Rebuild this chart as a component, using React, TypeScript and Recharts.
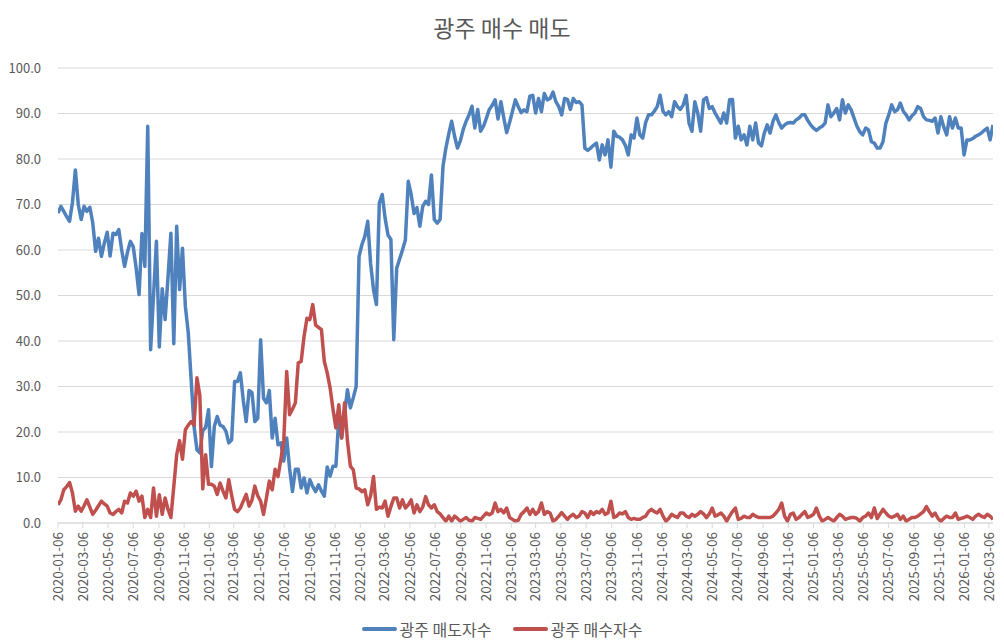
import React from 'react';
import { LineChart, Line, XAxis, YAxis, CartesianGrid } from 'recharts';

const TITLE = '광주 매수 매도';
const SELL_NAME = '광주 매도자수';
const BUY_NAME = '광주 매수자수';
const FIRST_WEEK = '2020-01-06';

const sellers = [
  68.1, 69.6, 68.5, 67.3, 66.3, 70.5, 77.6, 70.0, 66.7, 69.6,
  68.5, 69.4, 66.0, 59.7, 62.6, 58.6, 61.5, 63.9, 58.7, 63.7,
  63.4, 64.5, 60.0, 56.4, 59.5, 61.9, 60.7, 56.0, 50.2, 63.6,
  56.4, 87.2, 38.1, 50.0, 61.9, 38.7, 51.5, 44.7, 54.0, 63.7,
  39.4, 65.2, 51.3, 60.4, 47.6, 41.8, 31.5, 21.2, 16.1, 15.4,
  20.3, 21.0, 24.9, 12.4, 21.2, 23.4, 21.5, 21.2, 20.2, 17.6,
  18.3, 31.1, 31.1, 33.0, 27.0, 22.3, 29.1, 28.7, 22.3, 23.0,
  40.3, 27.4, 26.4, 29.1, 18.7, 23.0, 17.2, 17.6, 13.6, 18.7,
  12.0, 6.9, 11.8, 11.8, 7.7, 9.9, 6.6, 9.5, 8.0, 6.9,
  8.4, 7.0, 5.9, 12.3, 10.3, 12.5, 12.5, 23.0, 18.7, 24.0,
  29.3, 25.3, 27.5, 30.0, 58.6, 61.2, 63.0, 66.3, 57.0, 51.3,
  48.0, 70.3, 72.2, 67.0, 63.3, 62.3, 40.3, 56.0, 58.0, 60.0,
  62.2, 75.1, 72.2, 68.0, 69.3, 65.2, 69.6, 70.7, 70.0, 76.5,
  66.7, 65.9, 66.7, 78.4, 82.4, 85.5, 88.3, 85.0, 82.4, 84.0,
  86.5, 88.3, 89.7, 91.6, 86.8, 90.9, 86.1, 87.2, 89.0, 90.9,
  91.8, 93.0, 88.8, 92.6, 89.0, 85.8, 88.0, 90.5, 93.0, 91.5,
  90.2, 90.8, 90.4, 93.8, 94.0, 90.1, 93.3, 90.4, 94.4, 93.0,
  93.3, 94.7, 92.6, 91.5, 89.7, 93.3, 93.1, 90.9, 93.3, 92.4,
  92.6, 91.9, 82.4, 81.9, 82.4, 83.0, 83.5, 79.8, 83.1, 80.9,
  84.2, 78.2, 86.1, 85.0, 84.8, 84.2, 83.0, 80.9, 85.3, 84.6,
  89.0, 85.3, 84.6, 88.0, 89.7, 89.7, 90.5, 91.5, 94.0, 90.5,
  89.7, 90.4, 89.3, 92.6, 91.5, 90.9, 91.9, 94.0, 87.9, 86.1,
  92.6, 90.1, 86.1, 93.0, 93.5, 91.1, 91.5, 90.1, 89.0, 87.9,
  90.1, 87.9, 93.0, 93.1, 84.6, 87.2, 84.2, 85.3, 83.1, 87.2,
  84.2, 87.9, 83.5, 82.9, 85.7, 87.5, 85.7, 88.3, 89.7, 88.0,
  86.8, 87.5, 87.9, 88.0, 87.9, 88.6, 89.0, 89.7, 89.7, 88.5,
  87.5, 86.8, 86.3, 86.8, 87.2, 87.9, 91.9, 89.3, 90.1, 91.1,
  88.6, 93.0, 90.1, 91.9, 90.8, 89.0, 87.2, 86.0, 85.3, 86.8,
  86.4, 83.8, 83.5, 82.4, 82.4, 83.8, 87.9, 89.7, 91.9, 90.4,
  90.8, 92.3, 90.5, 89.7, 88.6, 89.5, 90.1, 91.5, 91.1, 89.3,
  88.6, 88.5, 88.3, 89.0, 85.7, 89.3, 87.0, 85.3, 89.3, 86.8,
  89.0, 86.8, 86.8, 80.9, 84.2, 84.2, 84.5, 85.0, 85.3, 85.7,
  86.3, 86.8, 84.2, 87.5,
];

const buyers = [
  4.0, 5.1, 7.3, 8.0, 8.9, 6.6, 2.6, 3.7, 2.6, 3.8,
  5.1, 3.5, 1.9, 2.8, 3.8, 4.8, 4.2, 3.7, 2.2, 1.9,
  2.5, 3.0, 2.2, 4.8, 4.4, 6.6, 5.9, 7.0, 4.8, 5.9,
  1.2, 3.0, 1.2, 7.7, 1.5, 6.2, 1.9, 5.5, 3.0, 1.2,
  8.0, 15.0, 18.1, 14.0, 20.5, 21.5, 22.3, 21.5, 31.9, 28.0,
  7.5, 15.0, 8.5, 8.5, 8.1, 6.3, 8.8, 7.0, 5.5, 9.5,
  6.0, 3.0, 2.5, 3.3, 4.8, 6.3, 3.7, 5.0, 8.1, 6.0,
  4.8, 1.9, 5.5, 9.2, 7.3, 11.8, 10.2, 14.0, 18.1, 33.3,
  23.8, 25.0, 26.4, 35.2, 35.5, 41.0, 45.0, 44.7, 48.0, 43.5,
  43.0, 42.5, 35.5, 33.0, 29.7, 25.0, 20.9, 26.0, 18.7, 26.4,
  18.0, 12.5, 11.7, 7.7, 7.5, 6.9, 7.3, 4.0, 6.0, 10.2,
  3.0, 3.5, 3.3, 4.8, 1.5, 3.6, 5.5, 5.5, 3.3, 5.1,
  3.3, 4.0, 5.1, 2.2, 4.0, 2.5, 3.5, 5.8, 4.0, 3.3,
  4.0, 2.5, 2.0, 1.2, 0.4, 1.5, 0.4, 1.5, 1.0, 0.4,
  0.8, 1.2, 0.6, 0.4, 1.2, 1.0, 0.8, 1.5, 2.2, 1.8,
  2.2, 4.4, 2.5, 3.0, 2.2, 3.3, 1.2, 0.8, 0.4, 0.6,
  1.9, 2.5, 3.3, 1.9, 3.0, 1.9, 2.5, 4.4, 1.9, 2.5,
  2.2, 0.4, 0.8, 1.5, 2.3, 1.5, 0.8, 1.5, 1.9, 1.2,
  1.5, 2.5, 2.2, 1.2, 2.5, 1.9, 2.5, 2.2, 3.0, 1.9,
  2.2, 4.8, 1.2, 1.5, 2.2, 2.0, 2.5, 1.2, 0.8, 1.0,
  0.8, 0.8, 1.2, 1.5, 2.5, 3.0, 2.5, 2.2, 3.0, 1.5,
  0.4, 1.0, 1.9, 1.5, 1.2, 2.2, 2.2, 1.5, 1.2, 1.9,
  1.5, 1.9, 2.5, 2.0, 1.2, 2.0, 3.3, 1.5, 1.8, 2.2,
  1.5, 0.4, 1.5, 2.5, 3.3, 0.8, 1.0, 1.5, 1.2, 1.2,
  1.9, 1.5, 1.2, 1.2, 1.2, 1.2, 1.2, 1.5, 2.2, 3.0,
  4.4, 1.5, 0.4, 1.9, 2.2, 0.8, 1.2, 1.9, 2.5, 1.2,
  1.5, 1.9, 3.3, 1.5, 0.4, 0.8, 1.2, 0.8, 0.4, 1.2,
  1.9, 1.5, 0.8, 1.0, 1.2, 1.2, 1.0, 0.4, 1.2, 1.5,
  2.2, 1.2, 3.3, 1.0, 2.0, 3.0, 2.2, 1.5, 1.2, 1.5,
  1.9, 0.8, 1.5, 0.4, 0.8, 1.2, 1.2, 1.5, 2.0, 2.5,
  3.6, 2.5, 1.5, 2.2, 1.0, 0.4, 1.0, 1.5, 1.2, 1.2,
  2.2, 0.8, 1.0, 1.2, 1.5, 1.2, 0.8, 1.5, 1.9, 1.5,
  1.2, 1.9, 1.5, 0.8,
];

const tickLabels = [
  '2020-01-06', '2020-03-06', '2020-05-06', '2020-07-06', '2020-09-06', '2020-11-06',
  '2021-01-06', '2021-03-06', '2021-05-06', '2021-07-06', '2021-09-06', '2021-11-06',
  '2022-01-06', '2022-03-06', '2022-05-06', '2022-07-06', '2022-09-06', '2022-11-06',
  '2023-01-06', '2023-03-06', '2023-05-06', '2023-07-06', '2023-09-06', '2023-11-06',
  '2024-01-06', '2024-03-06', '2024-05-06', '2024-07-06', '2024-09-06', '2024-11-06',
  '2025-01-06', '2025-03-06', '2025-05-06', '2025-07-06', '2025-09-06', '2025-11-06',
  '2026-01-06', '2026-03-06',
];

const yTicks = [0, 10, 20, 30, 40, 50, 60, 70, 80, 90, 100];

const BLUE = '#4F81BD';
const RED = '#C0504D';
const TEXT = '#595959';
const GRID = '#D9D9D9';
const FONT = '"Noto Sans CJK KR", "Noto Sans", sans-serif';

const toTime = (s: string) => {
  const [y, m, d] = s.split('-').map(Number);
  return Date.UTC(y, m - 1, d);
};
const WEEK_MS = 7 * 86400000;
const t0 = toTime(FIRST_WEEK);
const data = sellers.map((v, i) => ({ t: t0 + i * WEEK_MS, sell: v, buy: buyers[i] }));
const tLast = data[data.length - 1].t;
const tickTimes = tickLabels.map(toTime);
const labelOf = (t: number) => new Date(t).toISOString().slice(0, 10);

const XTick = (props: any) => {
  const { x, y, payload } = props;
  return (
    <text
      x={x}
      y={y}
      transform={`rotate(-90 ${x} ${y})`}
      textAnchor="end"
      dy="0.35em"
      fill={TEXT}
      fontSize={13.5}
      fontFamily={FONT}
    >
      {labelOf(payload.value)}
    </text>
  );
};

const LegendItem = ({ color, label, gap }: { color: string; label: string; gap: number }) => (
  <div style={{ display: 'flex', alignItems: 'center', marginLeft: gap }}>
    <div style={{ width: 35, height: 4, background: color, borderRadius: 2, marginRight: 3 }} />
    <span>{label}</span>
  </div>
);

export default function App() {
  return (
    <div style={{ position: 'absolute', left: 0, top: 0, width: 1004, height: 643, background: '#fff', fontFamily: FONT }}>
      <div
        style={{
          position: 'absolute', left: 0, top: 12, width: 1004, textAlign: 'center',
          fontSize: 23, lineHeight: '30px', color: TEXT,
        }}
      >
        {TITLE}
      </div>
      <LineChart width={1004} height={643} data={data} margin={{ top: 68, right: 11, left: 0, bottom: 30 }}>
        <CartesianGrid vertical={false} stroke={GRID} strokeWidth={1} />
        <XAxis
          dataKey="t"
          type="number"
          domain={[t0, tLast]}
          ticks={tickTimes}
          interval={0}
          height={90}
          tickSize={5}
          tickMargin={4}
          stroke={GRID}
          tick={XTick}
          allowDataOverflow
        />
        <YAxis
          domain={[0, 100]}
          ticks={yTicks}
          width={58}
          axisLine={false}
          tickLine={false}
          tickSize={0}
          tickMargin={17}
          tickFormatter={(v: number) => v.toFixed(1)}
          tick={{ fill: TEXT, fontSize: 13, fontFamily: FONT }}
        />
        <Line
          type="linear"
          dataKey="sell"
          name={SELL_NAME}
          stroke={BLUE}
          strokeWidth={3.5}
          strokeLinejoin="round"
          dot={false}
          isAnimationActive={false}
        />
        <Line
          type="linear"
          dataKey="buy"
          name={BUY_NAME}
          stroke={RED}
          strokeWidth={3.5}
          strokeLinejoin="round"
          dot={false}
          isAnimationActive={false}
        />
      </LineChart>
      <div
        style={{
          position: 'absolute', left: 0, top: 614, width: 1004, height: 30,
          display: 'flex', justifyContent: 'center', alignItems: 'center',
          fontSize: 16, color: TEXT,
        }}
      >
        <LegendItem color={BLUE} label={SELL_NAME} gap={0} />
        <LegendItem color={RED} label={BUY_NAME} gap={21} />
      </div>
    </div>
  );
}
